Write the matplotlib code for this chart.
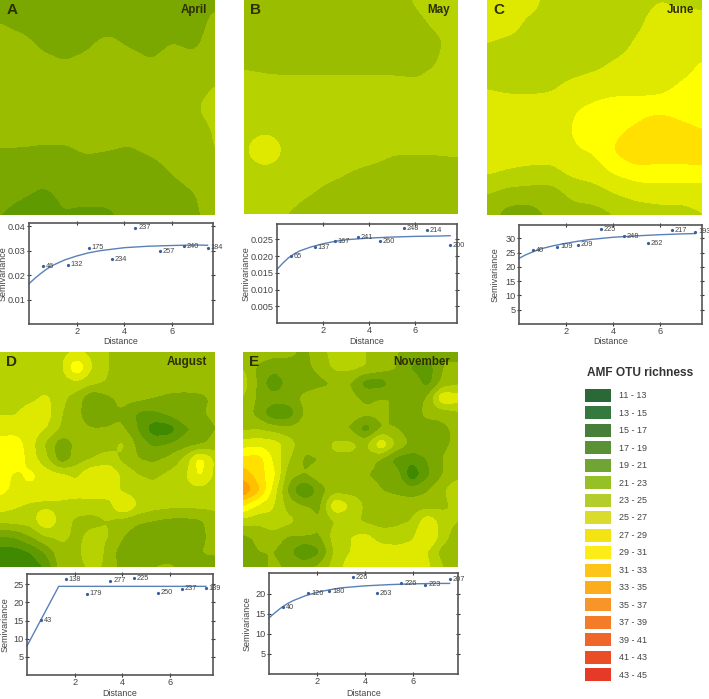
# AMF OTU richness maps with their semivariograms
import numpy as np
import matplotlib
matplotlib.use('Agg')
import matplotlib.pyplot as plt
from matplotlib.patches import Rectangle

plt.rcParams['font.family'] = ['Liberation Sans', 'DejaVu Sans']

W, H = 709, 699

# richness, top row first
april = [
    [22, 22, 22, 22, 22, 22, 22, 22, 22, 22, 22.5],
    [22.9, 22.3, 22, 22, 22, 22, 22, 22, 22, 22, 23.5],
    [24, 23.5, 22.6, 22, 22.6, 23.5, 22.7, 22, 23, 22.5, 24],
    [23.6, 23.8, 23.6, 23.2, 23.6, 24, 24, 23.3, 24, 23.8, 24.5],
    [24, 24, 24, 24, 24, 24, 24, 24, 24, 24, 25],
    [24, 24, 24, 24, 24, 24, 24, 24, 24, 24.6, 26],
    [24, 24, 24, 24, 24, 24, 24, 24, 24, 24, 25.2],
    [22.8, 22.8, 22.6, 22.6, 23.2, 23, 22.7, 23.3, 24, 24.5, 25],
    [22, 22, 22, 22, 22, 22, 22, 22, 23.1, 24, 24.5],
    [22, 21.3, 20.6, 21.4, 22, 22, 21.8, 22, 22, 22.9, 24],
    [21, 20, 20, 20.9, 20.3, 20.4, 22, 22, 22, 22.5, 24],
]
may = [
    [24, 24, 24, 24, 24, 24, 24, 24, 25.2, 26, 26],
    [24, 24, 24, 24, 24, 24, 24, 24, 24.5, 25.4, 26],
    [24, 24, 24, 24, 24, 24, 24, 24, 24, 24.6, 26],
    [24.6, 24.5, 24.4, 24.4, 24.4, 24.4, 24.4, 24.4, 24.4, 25, 26],
    [26, 25.6, 25.5, 25.5, 25.5, 25.5, 25.5, 25.5, 25.3, 25.6, 25],
    [26, 26, 26, 26, 26, 26, 26, 26, 26, 26, 25.5],
    [26, 26, 26, 26, 26, 26, 26, 26, 26, 26, 26],
    [26.3, 29.5, 26.2, 26, 26, 26, 26, 25.3, 25.3, 25.3, 25.5],
    [26, 26, 26, 26, 25.6, 25, 24.5, 24, 24, 24, 24],
    [26, 26, 26, 25.2, 24.4, 24, 24, 24, 24, 24, 24],
    [26, 26, 25, 24, 24, 24, 24, 24, 24, 24, 24],
]
june = [
    [28, 28, 28, 25.8, 25.5, 26, 26, 26, 26.9, 26.5, 26],
    [28, 28, 26.5, 26, 26, 26, 26, 26.5, 28, 28, 28],
    [27, 26.5, 26, 26, 26, 26, 26, 27.3, 28, 28, 28],
    [26, 26, 26, 26, 26, 26.5, 27.3, 28, 28, 28, 29.2],
    [26.8, 26.4, 26.3, 26.6, 27.5, 28, 28, 28, 28.3, 29.2, 30],
    [28, 28, 28, 28, 28.8, 29.3, 30, 30, 30, 30, 30.5],
    [28, 28, 28, 28, 29.1, 30, 30.5, 31.3, 33, 31.5, 30.8],
    [28, 28, 28, 28, 28.8, 29.2, 31.2, 33, 32.5, 32.5, 33],
    [27.3, 26.8, 26.5, 26.4, 27.5, 28, 29.3, 30, 30, 30, 30],
    [25, 24.2, 24, 24, 25.5, 26, 27, 27.8, 28, 28, 28],
    [24, 22, 22, 23.5, 24, 24, 25, 25.5, 26, 26, 26.9],
]
august = [
    [26, 26, 26, 26, 26.5, 27, 26.5, 25, 24.5, 24, 24, 24, 24, 24, 24],
    [26, 26, 26, 26, 26.5, 31, 26.8, 25, 24.5, 24, 24, 24, 24, 24, 24],
    [26, 26, 26, 26, 26, 26.4, 25.5, 24.8, 24.5, 24, 24, 24, 24, 24, 24],
    [26, 26, 26.5, 27.4, 25.5, 24, 21, 22.5, 23.5, 23.5, 23, 22.5, 22.3, 22.5, 23.3],
    [26.8, 26.8, 28, 28, 25, 23.8, 20.5, 22.8, 22.8, 20.5, 20.5, 21.5, 22.6, 22.7, 23.5],
    [28, 28.2, 28, 27, 24.6, 23.8, 23.2, 23, 23.2, 20.8, 17.5, 17.5, 20.5, 21.3, 23],
    [30, 30, 27.8, 24.5, 21.5, 23.5, 24, 24, 25.5, 22.2, 20.5, 21, 22, 22.5, 23.8],
    [30.5, 30.5, 28, 25.5, 21.5, 24, 25, 26, 24.5, 23, 22.5, 23.5, 25.3, 30, 26.5],
    [30.2, 28.5, 29.5, 28, 27.5, 26.5, 29, 29, 26.5, 25, 24.6, 25.4, 26.5, 29.5, 26.5],
    [29.5, 28.5, 28.5, 28.2, 27.9, 28, 28.5, 28.5, 26.5, 26, 25.5, 26, 26.2, 26.2, 25.8],
    [28, 27.2, 26.6, 26.4, 26.5, 26, 25.6, 25.8, 29.5, 26.8, 25.8, 25.5, 25.5, 25.5, 25.5],
    [25.5, 25.8, 26, 29, 26, 24.5, 24.5, 25, 24, 23.2, 22.8, 22.4, 22.3, 22.6, 24],
    [20.8, 21.2, 23, 25, 25.5, 24.5, 25.5, 25.2, 23, 22, 22, 22, 22, 22.2, 24],
    [18.2, 18, 19, 21.3, 24.5, 24, 27.5, 24, 22, 22, 22, 22, 22, 23, 23.3],
    [17.5, 17, 17.5, 19.3, 24, 24, 25.5, 24.5, 22, 22, 23, 23.3, 22.5, 22.5, 22],
]
november = [
    [24, 24, 23.5, 23.5, 22.5, 24, 26, 26, 25, 24, 23, 23, 23, 23, 22],
    [25, 22.5, 22, 22, 22.5, 23.5, 25.5, 25.5, 25, 24, 23, 20.5, 19.5, 23, 23.5],
    [26, 22.5, 19, 22, 22, 22.5, 23, 23, 19.8, 19.8, 22, 22.5, 20, 23.5, 24.5],
    [25, 22.5, 22, 22, 23.5, 24, 24, 23.5, 22.5, 23, 23, 22.5, 23, 29, 28],
    [24.5, 22, 19, 19.5, 23.2, 24, 24.4, 24, 23.5, 23.5, 22.5, 22, 23.5, 23.5, 24.5],
    [24.5, 24.8, 24, 23.5, 24, 24.4, 23, 22.8, 19.5, 23, 23, 22, 22, 22.5, 23.5],
    [28, 28.3, 28, 26, 23.5, 24, 25.5, 25.5, 24.5, 29, 24.5, 22.5, 22.5, 22.5, 23.5],
    [31.7, 32, 28.5, 25, 22.6, 22.9, 24.5, 24.5, 24, 22.5, 20, 19.5, 21, 23, 24.5],
    [34, 32, 29.5, 23.5, 23, 24, 24.5, 24, 23, 22.5, 22, 17, 20.5, 23, 24],
    [37, 33.5, 28, 22.2, 18, 22, 24, 24, 24, 23, 22.5, 22, 22.8, 24.5, 27],
    [31, 28.5, 27, 24, 23, 22.3, 29, 26.8, 24.5, 24, 24, 24, 24, 24.5, 25.5],
    [26, 25.5, 26.5, 25.5, 24.5, 23, 25, 25.5, 24.5, 24, 24.5, 25, 28.5, 26, 25],
    [22.5, 23.5, 24, 22.8, 23, 22.8, 26, 27, 27.5, 26, 25.8, 26.5, 29.5, 26, 23.5],
    [21.5, 23, 23, 21.5, 18.5, 20.6, 25.5, 27, 28, 28, 27.8, 28, 27, 24, 23.5],
    [21, 22, 23.5, 22.5, 22.5, 23.5, 26, 28, 28, 28, 28, 28, 27.5, 25, 23.8],
]

# semivariogram points: lag, semivariance, pair count
dist = [0.6, 1.63, 2.5, 3.5, 4.47, 5.5, 6.5, 7.5]
april_semi = [0.0237, 0.0243, 0.0312, 0.0264, 0.0393, 0.0298, 0.0318, 0.0312]
april_pairs = [46, 132, 175, 234, 237, 257, 240, 184]
may_semi = [0.0200, 0.0227, 0.0245, 0.0256, 0.0245, 0.0283, 0.0278, 0.0232]
may_pairs = [65, 137, 167, 241, 260, 248, 214, 200]
june_semi = [25.9, 27.1, 27.7, 33.2, 30.8, 28.3, 32.8, 32.4]
june_pairs = [40, 109, 209, 225, 248, 262, 217, 193]
aug_semi = [15.1, 26.3, 22.4, 25.9, 26.6, 22.7, 23.7, 23.9]
aug_pairs = [43, 138, 179, 277, 225, 250, 237, 189]
nov_semi = [16.7, 20.1, 20.6, 24.2, 20.1, 22.7, 22.3, 23.7]
nov_pairs = [40, 126, 180, 226, 263, 226, 223, 207]

# fitted models
curve_x = [0, 0.25, 0.5, 0.75, 1, 1.5, 2, 2.5, 3, 4, 5, 6, 7, 7.5]
april_fit = [0.0165, 0.0187, 0.0207, 0.0225, 0.024, 0.0262, 0.0278, 0.0291, 0.03, 0.0312, 0.0318, 0.0321, 0.0323, 0.0322]
may_fit = [0.016, 0.0179, 0.0195, 0.0207, 0.0216, 0.0228, 0.0237, 0.0244, 0.0249, 0.0254, 0.0257, 0.0259, 0.026, 0.0261]
june_fit = [23, 24.1, 25, 25.8, 26.5, 27.5, 28.3, 29, 29.6, 30.4, 30.9, 31.3, 31.6, 31.7]
aug_x = [0, 1.33, 7.5]
aug_fit = [8, 24.4, 24.4]
nov_fit = [14, 15.3, 16.5, 17.5, 18.3, 19.5, 20.4, 21, 21.5, 22, 22.3, 22.5, 22.6, 22.6]

# contour bands used inside the maps
levels = [15, 17, 19, 21, 23, 25, 27, 29, 31, 33, 35, 37, 39]
map_colors = ['#2f7c00', '#3f8a00', '#5f9a00', '#7aa800', '#9bbd00', '#b6d200',
              '#dfe900', '#ffff00', '#ffe000', '#ffc000', '#ff9f00', '#ff8000']

# legend
legend_labels = ['11 - 13', '13 - 15', '15 - 17', '17 - 19', '19 - 21', '21 - 23',
                 '23 - 25', '25 - 27', '27 - 29', '29 - 31', '31 - 33', '33 - 35',
                 '35 - 37', '37 - 39', '39 - 41', '41 - 43', '43 - 45']
legend_colors = ['#2a6837', '#35793f', '#457f3a', '#5b9136', '#70a534', '#97bf26',
                 '#b4cd2c', '#d9dc2c', '#f4e312', '#fdec17', '#fdc51a', '#fbad1e',
                 '#f7942a', '#f47c28', '#f06529', '#ea4e27', '#e63a28']


def px_axes(left, top, right, bottom):
    return fig.add_axes([left / W, 1 - bottom / H, (right - left) / W, (bottom - top) / H])


def soften(z, n=12):
    # bilinear upsample then a box blur, so the bands come out rounded
    rows, cols = z.shape
    xi = np.linspace(0, cols - 1, (cols - 1) * n + 1)
    yi = np.linspace(0, rows - 1, (rows - 1) * n + 1)
    z = np.array([np.interp(xi, np.arange(cols), r) for r in z])
    z = np.array([np.interp(yi, np.arange(rows), c) for c in z.T]).T
    k = np.ones(7) / 7
    for axis in (0, 1):
        pad = [(0, 0), (0, 0)]
        pad[axis] = (n, n)
        z = np.pad(z, pad, mode='edge')
        z = np.apply_along_axis(lambda a: np.convolve(a, k, mode='same'), axis, z)
        z = z[n:-n, :] if axis == 0 else z[:, n:-n]
    return z


def draw_map(box, grid, letter, month):
    ax = px_axes(*box)
    z = soften(np.array(grid, dtype=float))
    xs = np.linspace(0, 1, z.shape[1])
    ys = np.linspace(0, 1, z.shape[0])
    ax.contourf(xs, ys, z, levels=levels, colors=map_colors, extend='both')
    ax.set_xlim(0, 1)
    ax.set_ylim(1, 0)
    ax.axis('off')
    ax.text(0.03, 0.955, letter, transform=ax.transAxes, fontsize=11, fontweight='bold',
            color='#2c3000', ha='left', va='center')
    ax.text(0.963, 0.955, month, transform=ax.transAxes, fontsize=8.4, fontweight='bold',
            color='#2c3000', ha='right', va='center')


def draw_vario(box, xmax, ymax, yticks, yfmt, semi, pairs, fx, fy, ylab_x, xlab_y):
    ax = px_axes(*box)
    ax.plot(fx, fy, color='#5a80b8', lw=1.0, clip_on=False)
    ax.plot(dist, semi, '.', color='#3a5f9f', ms=2.6, clip_on=False)
    for d, s, p in zip(dist, semi, pairs):
        ax.annotate(str(p), (d, s), xytext=(2, 0), textcoords='offset points',
                    fontsize=5.3, color='#444444', va='center', ha='left')
    ax.set_xlim(0, xmax)
    ax.set_ylim(0, ymax)
    ax.set_xticks([2, 4, 6])
    ax.set_yticks(yticks)
    ax.set_yticklabels([yfmt % t for t in yticks])
    ax.tick_params(direction='inout', length=3, width=0.8, color='#333333',
                   top=True, right=True, labelsize=6.6, labelcolor='#444444', pad=1)
    for s in ax.spines.values():
        s.set_linewidth(1.2)
        s.set_color('#555555')
    ax.set_xlabel('Distance', fontsize=6.4, color='#444444')
    ax.set_ylabel('Semivariance', fontsize=6.5, color='#444444')
    left, top, right, bottom = box
    ax.yaxis.set_label_coords((ylab_x - left) / (right - left), 0.5)
    ax.xaxis.set_label_coords(0.5, -(xlab_y - bottom) / (bottom - top))
    ax.xaxis.label.set_va('center')
    ax.yaxis.label.set_va('center')


fig = plt.figure(figsize=(W / 100, H / 100), dpi=100)

draw_map((0, 0, 215, 215), april, 'A', 'April')
draw_map((243.5, 0, 458, 214), may, 'B', 'May')
draw_map((487, 0, 702, 215), june, 'C', 'June')
draw_map((0, 352, 215, 567), august, 'D', 'August')
draw_map((243, 352, 458, 567), november, 'E', 'November')

draw_vario((29, 223, 213, 324), 7.73, 0.0413, [0.01, 0.02, 0.03, 0.04], '%.2f',
           april_semi, april_pairs, curve_x, april_fit, 3.5, 341.5)
draw_vario((277, 224, 457, 323), 7.8, 0.0296, [0.005, 0.01, 0.015, 0.02, 0.025], '%.3f',
           may_semi, may_pairs, curve_x, may_fit, 246.5, 341.5)
draw_vario((519, 225, 702, 324), 7.79, 34.7, [5, 10, 15, 20, 25, 30], '%d',
           june_semi, june_pairs, curve_x, june_fit, 495, 341.5)
draw_vario((27, 574, 213, 675), 7.8, 27.8, [5, 10, 15, 20, 25], '%d',
           aug_semi, aug_pairs, aug_x, aug_fit, 5, 694)
draw_vario((269, 573, 458, 674), 7.85, 25.2, [5, 10, 15, 20], '%d',
           nov_semi, nov_pairs, curve_x, nov_fit, 247, 693)

# legend in pixel coordinates
lax = fig.add_axes([0, 0, 1, 1])
lax.set_xlim(0, W)
lax.set_ylim(H, 0)
lax.axis('off')
lax.patch.set_alpha(0)
lax.text(587, 373, 'AMF OTU richness', fontsize=8.6, fontweight='bold', color='#333333',
         ha='left', va='center')
for i, (lab, col) in enumerate(zip(legend_labels, legend_colors)):
    y = 389 + i * 17.45
    lax.add_patch(Rectangle((585, y), 26, 13, facecolor=col, edgecolor='none'))
    lax.text(619, y + 6.8, lab, fontsize=6.5, color='#444444', ha='left', va='center')

plt.savefig('out.png', dpi=100)
